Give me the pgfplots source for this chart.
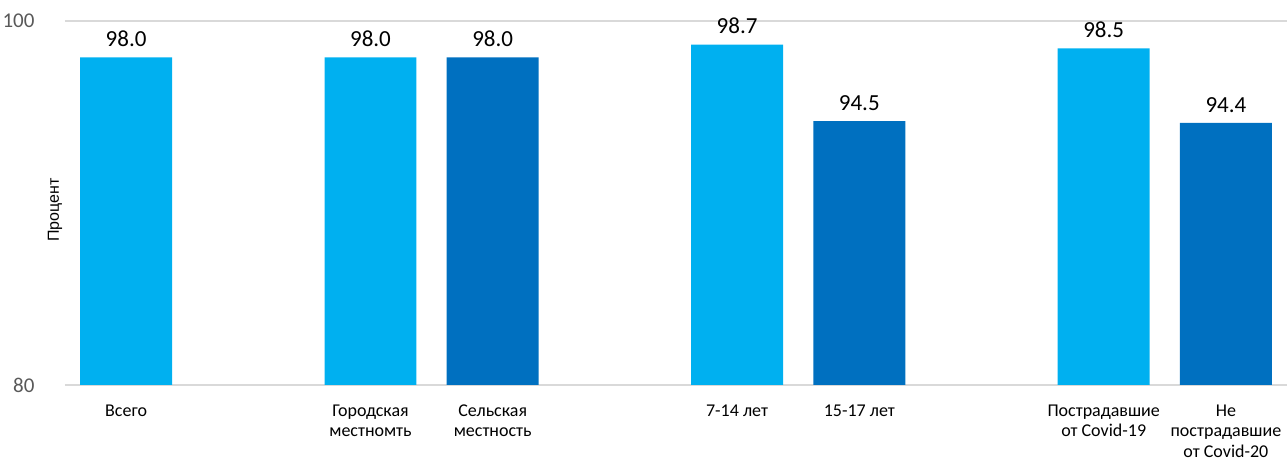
\documentclass[border=0pt]{standalone}
\usepackage{pgfplots}
\pgfplotsset{compat=1.18}
\usepackage{fontspec}
\setmainfont{Carlito}
\newfontfamily\arialf{Liberation Sans}
\definecolor{lb}{HTML}{00B0F0}
\definecolor{db}{HTML}{0070C0}
\definecolor{gridc}{HTML}{D9D9D9}
\definecolor{tickc}{HTML}{595959}
\begin{document}
\begin{tikzpicture}
\begin{axis}[
  name=ax,
  scale only axis,
  width=1222bp, height=364bp,
  xmin=-0.5, xmax=9.5,
  ymin=80, ymax=100,
  ytick={80,100},
  ymajorgrids,
  grid style={gridc, line width=1.2bp},
  axis line style={draw=none},
  major tick style={draw=none},
  xtick={0,2,3,5,6,8,9},
  xticklabels={Всего, {Городская\\местномть}, {Сельская\\местность}, {7-14 лет}, {15-17 лет}, {Пострадавшие\\от Covid-19}, {Не\\пострадавшие\\от Covid-20}},
  xticklabel style={align=center, font=\fontsize{18bp}{20.5bp}\selectfont, text=black, yshift=-12bp},
  yticklabel style={font=\fontsize{21bp}{24bp}\selectfont, text=tickc, xshift=-27bp},
  /pgf/number format/assume math mode=true,
  ylabel={\arialf Процент},
  ylabel style={font=\fontsize{16bp}{18bp}\selectfont, at={(axis description cs:-0.0082,0.48)}, anchor=center},
  ybar, bar width=92bp, bar shift=0pt,
  nodes near coords,
  nodes near coords style={font=\fontsize{23bp}{26bp}\selectfont, text=black, yshift=7bp, /pgf/number format/.cd, fixed, fixed zerofill, precision=1, assume math mode=true},
]
\addplot[fill=lb, draw=none] coordinates {(0,98.0) (2,98.0) (5,98.7) (8,98.5)};
\addplot[fill=db, draw=none] coordinates {(3,98.0) (6,94.5) (9,94.4)};
\end{axis}
\pgfresetboundingbox
\path ([shift={(-65bp,-78bp)}]ax.south west) rectangle ([shift={(0bp,21bp)}]ax.north east);
\end{tikzpicture}
\end{document}
